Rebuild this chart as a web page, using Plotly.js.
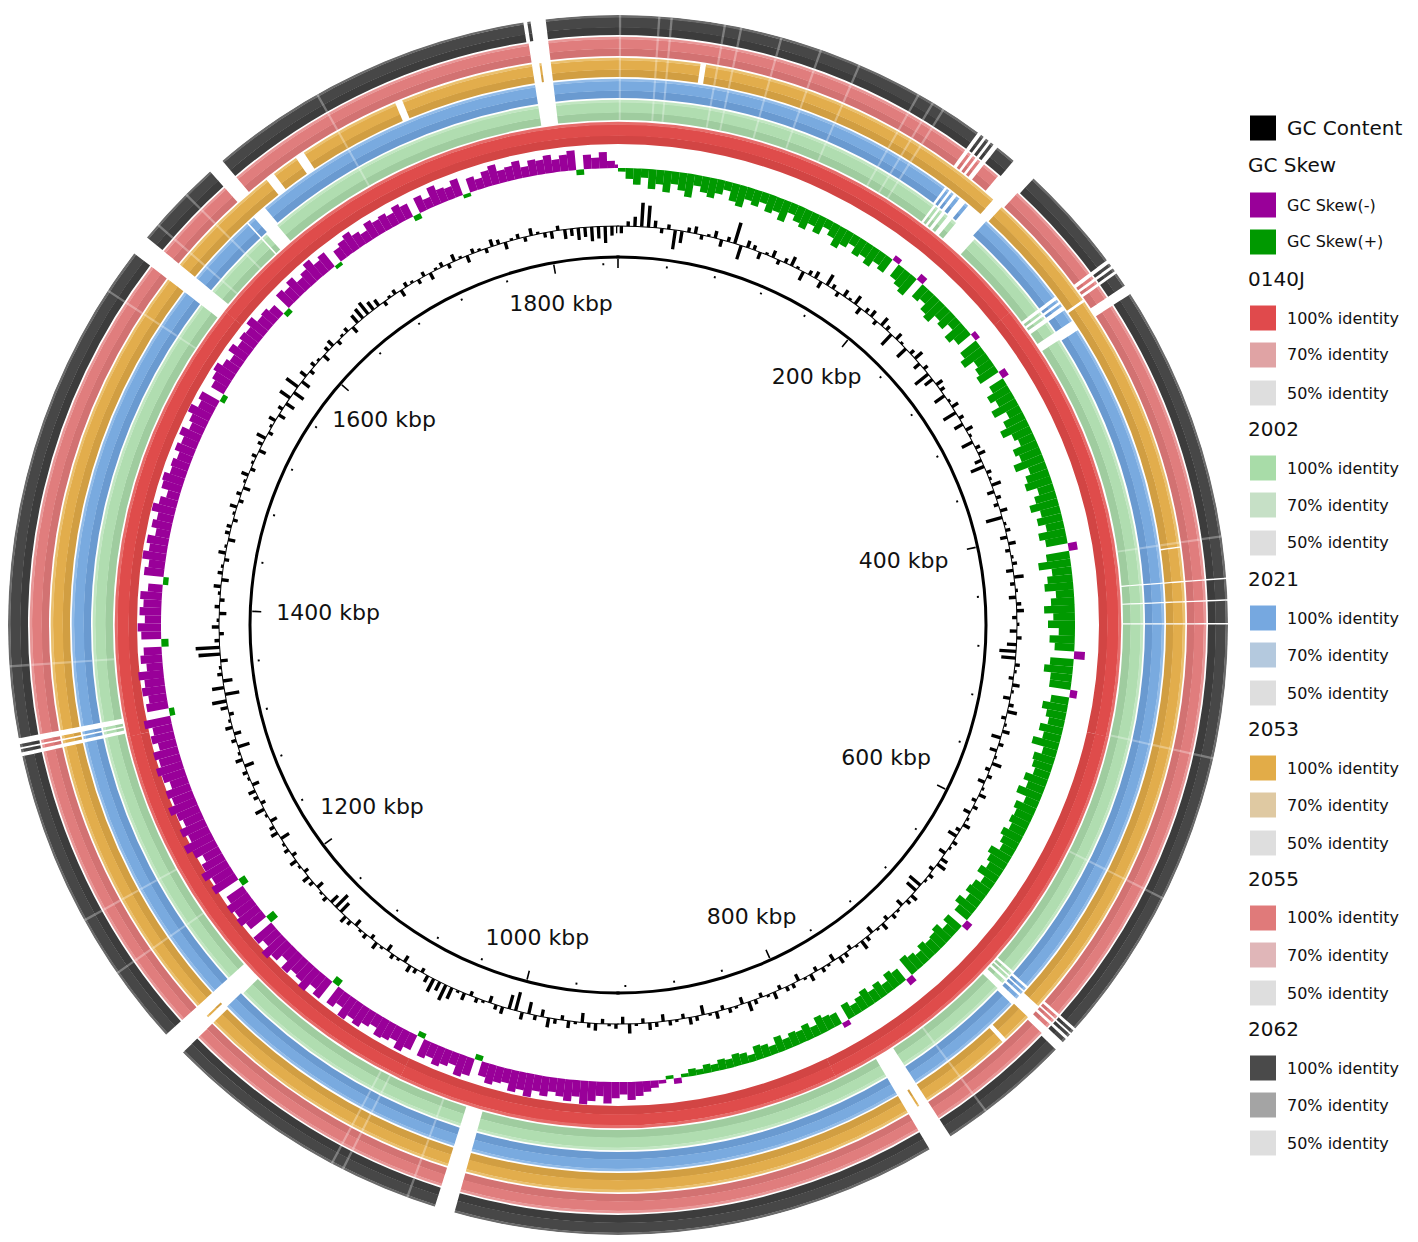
<!DOCTYPE html>
<html><head><meta charset="utf-8">
<script src="https://cdn.plot.ly/plotly-3.0.1.min.js"></script>
<style>html,body{margin:0;padding:0;background:#fff;}#chart{width:1418px;height:1242px;}</style>
</head><body><div id="chart"></div>
<script>
// ---------------- DATA ----------------
const genomeKbp = 1852;      // reference genome length (kbp)
const binKbp = 5;            // window size for GC content / GC skew

// GC skew per 5 kbp window (positive = GC Skew(+), negative = GC Skew(-))
const gcSkew = [
 0.02,0.06,0.09,0.05,0.11,0.08,0.12,0.07,0.10,0.13,0.06,0.09,0.11,0.08,0.05,0.10,0.12,0.07,0.09,0.06,
 0.10,0.08,0.12,0.06,0.09,0.11,0.07,0.10,0.05,0.08,0.12,0.09,0.06,0.10,0.08,0.11,0.07,0.09,-0.03,0.08,
 0.10,0.12,-0.04,0.09,0.07,0.11,0.13,0.08,0.10,0.06,0.12,0.09,-0.03,0.11,0.14,0.08,0.10,0.12,-0.04,0.09,
 0.13,0.10,0.15,0.08,0.12,0.16,0.11,0.09,0.14,0.12,0.17,0.10,0.13,0.15,0.09,0.12,0.16,0.11,0.14,0.10,
 0.15,0.12,-0.05,0.13,0.18,0.11,0.14,0.16,0.10,0.13,0.17,0.12,0.15,0.09,0.14,0.11,-0.06,0.13,0.16,0.12,
 0.12,-0.04,0.10,0.14,0.11,0.09,0.13,0.10,0.15,0.08,0.12,0.11,0.09,0.13,0.10,0.14,0.08,0.12,0.10,0.11,
 0.09,0.12,0.10,0.08,0.13,0.11,0.09,0.12,0.07,0.10,0.11,0.08,0.12,0.09,-0.04,0.10,0.07,0.11,0.09,0.08,
 0.10,0.07,0.09,0.11,-0.04,0.08,0.10,0.06,0.09,0.07,0.10,0.08,0.06,0.09,-0.03,0.07,0.08,0.10,0.06,0.09,
 0.07,0.08,0.06,0.09,0.05,0.07,0.08,0.04,0.06,0.07,0.05,0.06,0.04,0.05,0.03,0.04,0.02,-0.03,0.02,-0.02,
 -0.04,-0.06,-0.08,-0.10,-0.07,-0.09,-0.12,-0.08,-0.11,-0.13,-0.09,-0.12,-0.10,-0.08,-0.11,-0.09,-0.13,-0.10,-0.12,-0.08,
 -0.09,-0.11,-0.08,0.03,-0.10,-0.12,-0.07,-0.09,-0.11,-0.08,-0.10,0.03,-0.09,-0.12,-0.08,-0.10,-0.11,-0.07,-0.09,-0.12,
 -0.10,-0.13,-0.08,-0.11,0.04,-0.12,-0.09,-0.14,-0.11,-0.10,-0.13,-0.08,-0.12,-0.15,-0.10,-0.13,0.05,-0.11,-0.14,-0.12,
 -0.14,-0.11,0.04,-0.15,-0.12,-0.16,-0.13,-0.10,-0.14,-0.17,-0.12,-0.15,-0.11,-0.13,-0.16,-0.12,-0.14,-0.10,-0.13,-0.15,
 -0.12,-0.14,-0.10,-0.13,-0.11,-0.15,0.03,-0.12,-0.10,-0.13,-0.11,-0.14,-0.09,-0.12,-0.10,0.04,-0.11,-0.13,-0.09,-0.12,
 -0.10,-0.12,-0.08,0.03,-0.11,-0.09,-0.13,-0.10,-0.12,-0.08,-0.11,-0.09,-0.13,-0.10,-0.07,-0.11,-0.12,-0.09,-0.10,-0.08,
 -0.11,-0.09,-0.12,-0.08,-0.10,-0.13,-0.09,-0.11,0.03,-0.08,-0.10,-0.12,-0.09,-0.07,-0.11,-0.08,-0.10,-0.09,-0.12,-0.08,
 -0.09,-0.07,0.03,-0.10,-0.08,-0.11,-0.07,-0.09,-0.12,-0.08,-0.10,0.02,-0.07,-0.09,-0.11,-0.08,-0.06,-0.10,-0.08,-0.09,
 -0.07,-0.10,-0.08,0.03,-0.09,-0.06,-0.11,-0.08,-0.07,-0.10,0.02,-0.08,-0.06,-0.09,-0.11,-0.07,-0.08,-0.10,-0.06,-0.09,
 -0.08,-0.10,-0.07,-0.09,-0.11,0.03,-0.08,-0.06,-0.09,-0.04,-0.02
];

// GC content deviation from genome mean (%), per 5 kbp window
const gcContent = [
 -3,2,4,10,9,3,-2,2,-8,-5,2,3,-2,1,3,-3,2,9,-6,3,
 2,-3,1,3,-2,2,4,1,-4,2,3,-3,5,2,-2,3,1,4,-3,2,
 3,-2,4,2,-6,3,1,-5,2,4,-3,2,-7,-4,3,2,-5,1,3,-6,
 2,-4,3,1,-5,2,3,-3,-6,2,1,4,-3,2,-2,3,-7,1,2,-3,
 3,-2,1,2,-3,4,-2,1,-3,2,3,-2,1,-3,2,-4,-7,-6,2,1,
 -2,3,1,-3,2,4,-2,1,3,-4,2,-3,1,4,-2,2,-3,1,3,-2,
 2,-3,1,3,-2,-4,2,1,-3,3,4,-2,2,1,-6,-5,3,2,-3,1,
 2,-2,3,1,-3,2,4,1,-2,2,3,-3,1,2,-2,3,1,-3,2,2,
 -2,3,1,-2,2,4,-3,1,2,-2,3,1,-4,2,3,-2,1,2,-3,2,
 3,-2,1,4,-3,2,1,-2,3,2,-4,1,3,-2,2,4,-3,2,-5,3,
 -8,-6,3,2,-3,1,2,-2,3,1,5,7,4,6,3,-2,2,3,-3,1,
 2,-3,1,3,-2,2,1,-3,2,3,-5,-7,-4,2,1,-3,2,3,-2,1,
 3,-2,2,1,-4,3,2,-3,1,4,-2,2,3,-3,1,2,-4,3,1,-5,
 2,-3,3,1,-2,3,6,-6,5,-4,2,1,-3,9,10,2,-2,3,1,-3,
 2,-2,1,3,-3,2,1,-2,3,1,-3,2,2,-2,1,3,-2,2,-3,1,
 3,-2,1,2,-3,2,4,-2,1,3,-3,2,-4,5,-5,6,-4,3,-2,2,
 1,-3,2,3,-2,1,2,-3,4,5,6,4,3,-2,1,2,-3,2,1,-2,
 2,-3,1,2,-2,3,1,-3,2,1,-2,3,2,-3,1,2,-2,3,1,-2,
 -3,2,-4,-3,-5,-4,-6,-5,-7,-4,-3
];

// scale labels (kbp)
const scaleLabelKbp = [200,400,600,800,1000,1200,1400,1600,1800];
const scaleLabels = ['200 kbp','400 kbp','600 kbp','800 kbp','1000 kbp','1200 kbp','1400 kbp','1600 kbp','1800 kbp'];

// BLAST rings, inner to outer
const ringNames = ['0140J','2002','2021','2053','2055','2062'];

// regions without hits (kbp start, end) for each ring
const gaps0140J = [];
const gaps2002 = [[190,191.5],[193,194.5],[196,198],[200,203],[206,220],[273,275],[276.5,278],[279.5,282],[289,294],
  [440,440.8],[450.5,451.3],[462,462.8],[675,676.5],[678,679],[680.5,682],[684,688],[756,768],[1006,1016],
  [1160,1172],[1325,1327],[1328.5,1329.5],[1331,1334],[1582,1592],[1632,1633],[1636,1644],[1807,1817]];
const gaps2021 = [[189,190.5],[192,193.5],[195,197],[199,203],[205,218],[273,275],[276.5,278],[279.5,282],[289,295],
  [440,440.8],[450.5,451.3],[462,462.8],[676,677.5],[679,680],[681.5,683],[685,689],[756,768],[1006,1016],
  [1161,1172],[1325,1327],[1328.5,1329.5],[1331,1334],[1582,1592],[1632,1633],[1637,1645],[1807,1817]];
const gaps2053 = [[43,46],[213,219],[283,284.5],[422,422.8],[440,440.8],[450.5,451.3],[462,462.8],[680,688],[704,706.5],
  [756,761],[762,768],[1006,1016],[1160,1164],[1165,1172],[1325,1327],[1328.5,1329.5],[1331,1334],[1582,1592],
  [1655,1660],[1674,1679],[1733,1737],[1807,1811],[1812,1817]];
const gaps2055 = [[186,188],[189.5,191],[192.5,194],[195.5,198],[207,220],[274,276],[277.5,279],[280.5,282],[289,294],
  [440,440.8],[450.5,451.3],[462,462.8],[676,677.5],[679,680],[681.5,683],[685,689],[756,768],[1006,1016],
  [1160,1172],[1325,1327],[1328.5,1329.5],[1331,1334],[1582,1592],[1636,1644],[1807,1817]];
const gaps2062 = [[186,188],[189.5,191],[192.5,194],[195.5,198],[208,221],[274,276],[277.5,279],[280.5,282],[289,294],
  [440,440.8],[450.5,451.3],[462,462.8],[676,677.5],[679,680],[681.5,683],[685,690],[756,768],[1006,1016],
  [1160,1172],[1325,1327],[1328.5,1329.5],[1331,1334],[1582,1592],[1636,1644],[1806,1808],[1809.5,1817]];
const ringGaps = [gaps0140J, gaps2002, gaps2021, gaps2053, gaps2055, gaps2062];

// faint boundaries between adjacent hits (kbp)
const faintLineKbp = [1,20,26,52,60,80,100,120,152,160,166,420,528,600,735,1030,1064,1070,1210,1240,1369,1560,1600,1620,1700];

// legend colours (100%, 70%, 50% identity)
const legend100 = ['#e04a4c','#a8dca8','#76a8e0','#e2ac48','#e07a7a','#4a4a4a'];
const legend70  = ['#e0a3a4','#c6e0c6','#b4c9de','#dfc9a2','#e0b6b8','#a4a4a4'];
const legend50  = ['#dedede','#dedede','#dedede','#dedede','#dedede','#dedede'];

// ---------------- DRAWING ----------------
const deg = k => k / genomeKbp * 360;
const traces = [];
const common = {type:'barpolar', hoverinfo:'skip', showlegend:false};

// ring geometry & shades (inner-dark, base, outer-light edge)
const ringGeom = [[481,503],[505,525],[527,546],[548,567],[569,588],[590,610]];
const ringShades = [
  ['#d24544','#df4c4b','#e66c6a'],
  ['#9fcc9f','#b0ddb0','#c2e6c2'],
  ['#6a9ad0','#79aadf','#93bce8'],
  ['#d19e42','#e2ad4c','#eac06f'],
  ['#d27272','#e07d7d','#e89797'],
  ['#3c3c3c','#474747','#6a6a6a']
];
const bandFrac = [[0,0.38],[0.38,0.88],[0.88,1]];

function segments(gaps){
  const g = gaps.slice().sort((a,b)=>a[0]-b[0]);
  const segs=[]; let cur=0;
  g.forEach(([s,e])=>{ if(s>cur) segs.push([cur,s]); cur=Math.max(cur,e); });
  if(cur<genomeKbp) segs.push([cur,genomeKbp]);
  const out=[];
  segs.forEach(([s,e])=>{
    const n=Math.ceil((e-s)/300);
    for(let i=0;i<n;i++){ out.push([s+(e-s)*i/n, s+(e-s)*(i+1)/n]); }
  });
  return out;
}

ringGaps.forEach((gaps,ri)=>{
  const segs = segments(gaps);
  const th = segs.map(([s,e])=>deg((s+e)/2));
  const wd = segs.map(([s,e])=>deg(e-s)+0.02);
  const [r0,r1] = ringGeom[ri];
  const t = r1-r0;
  bandFrac.forEach((f,bi)=>{
    traces.push(Object.assign({}, common, {
      theta: th, width: wd, base: th.map(()=>r0+f[0]*t), r: th.map(()=>(f[1]-f[0])*t+0.3),
      marker:{color: ringShades[ri][bi], line:{width:0}}
    }));
  });
  if(ri>0){
    traces.push(Object.assign({}, common, {
      theta: faintLineKbp.map(deg), width: faintLineKbp.map(()=>0.22),
      base: faintLineKbp.map(()=>r0), r: faintLineKbp.map(()=>t),
      marker:{color:'rgba(255,255,255,0.3)', line:{width:0}}
    }));
  }
});

// GC skew
const skewBase = 457, skewScale = 180;
function skewTrace(sign, color){
  const th=[], b=[], r=[], w=[];
  gcSkew.forEach((v,i)=>{
    if(Math.sign(v)!==sign) return;
    const s=i*binKbp, e=Math.min((i+1)*binKbp, genomeKbp);
    th.push(deg((s+e)/2)); w.push(deg(e-s)*1.01);
    const d = -v*skewScale; // (+) inward, (-) outward
    b.push(Math.min(skewBase, skewBase+d)); r.push(Math.abs(d));
  });
  return Object.assign({}, common, {theta:th, base:b, r:r, width:w, marker:{color:color, line:{width:0}}});
}
traces.push(skewTrace(-1,'#990099'));
traces.push(skewTrace(1,'#009900'));

// GC content
const gcBase = 399, gcScale = 2.4;
(function(){
  const th=[], b=[], r=[], w=[];
  gcContent.forEach((v,i)=>{
    const s=i*binKbp, e=Math.min((i+1)*binKbp, genomeKbp);
    th.push(deg((s+e)/2)); w.push(deg(e-s)*0.5);
    const d=v*gcScale;
    b.push(Math.min(gcBase, gcBase+d)); r.push(Math.max(Math.abs(d),0.8));
  });
  traces.push(Object.assign({}, common, {theta:th, base:b, r:r, width:w, marker:{color:'#000', line:{width:0}}}));
  // baseline
  traces.push(Object.assign({}, common, {theta:[90,270], base:[gcBase-0.5,gcBase-0.5], r:[1,1], width:[180.2,180.2], marker:{color:'#000', line:{width:0}}}));
})();

// inner scale circle
traces.push(Object.assign({}, common, {theta:[90,270], base:[366.5,366.5], r:[3,3], width:[180.5,180.5], marker:{color:'#000', line:{width:0}}}));

// ticks every 40 kbp (major every 200 kbp), inside the inner circle and outside the outermost ring
(function(){
  const tk=[]; for(let k=0;k<genomeKbp;k+=40) tk.push(k);
  const major = tk.filter(k=>k%200===0), minor = tk.filter(k=>k%200!==0);
  traces.push(Object.assign({}, common, {theta:major.map(deg), base:major.map(()=>357), r:major.map(()=>9), width:major.map(()=>0.25), marker:{color:'#000', line:{width:0}}}));
  traces.push(Object.assign({}, common, {theta:minor.map(deg), base:minor.map(()=>360), r:minor.map(()=>2), width:minor.map(()=>0.3), marker:{color:'#000', line:{width:0}}}));
  traces.push(Object.assign({}, common, {theta:major.map(deg), base:major.map(()=>613), r:major.map(()=>7), width:major.map(()=>0.22), marker:{color:'#000', line:{width:0}}}));
  traces.push(Object.assign({}, common, {theta:minor.map(deg), base:minor.map(()=>614), r:minor.map(()=>2), width:minor.map(()=>0.25), marker:{color:'#000', line:{width:0}}}));
})();

// scale labels
traces.push({
  type:'scatterpolar', mode:'text', hoverinfo:'skip', showlegend:false,
  theta: scaleLabelKbp.map(deg),
  r: scaleLabelKbp.map(k=>{ const s=Math.abs(Math.sin(deg(k)*Math.PI/180)); return 325-35*s*s*s; }),
  text: scaleLabels,
  textfont:{family:'DejaVu Sans, sans-serif', size:22, color:'#111'}
});

// ---------------- LEGEND ----------------
const W=1418, H=1242;
const shapes=[], annotations=[];
const px = x=>x/W, py = y=>1-y/H;
function sq(yc, color){
  shapes.push({type:'rect', xref:'paper', yref:'paper', x0:px(1250), x1:px(1276), y0:py(yc-12.5), y1:py(yc+12.5), fillcolor:color, line:{width:0}});
}
function txt(x, yc, s, size){
  annotations.push({xref:'paper', yref:'paper', x:px(x), y:py(yc), text:s, showarrow:false, xanchor:'left', yanchor:'middle',
    font:{family:'DejaVu Sans, sans-serif', size:size, color:'#111'}});
}
sq(128,'#000000'); txt(1285,128,'GC Content',20);
txt(1246,165,'GC Skew',20);
sq(205,'#990099'); txt(1285,205,'GC Skew(-)',16);
sq(242,'#009900'); txt(1285,242,'GC Skew(+)',16);
ringNames.forEach((n,i)=>{
  const y0 = 279 + i*150;
  txt(1246, y0, n, 20);
  sq(y0+39, legend100[i]); txt(1285, y0+39, '100% identity', 16);
  sq(y0+76, legend70[i]);  txt(1285, y0+76, '70% identity', 16);
  sq(y0+114, legend50[i]); txt(1285, y0+114, '50% identity', 16);
});

const layout = {
  width:W, height:H, margin:{l:0,r:0,t:0,b:0}, paper_bgcolor:'#fff',
  showlegend:false,
  polar:{
    domain:{x:[8/W, 1228/W], y:[7/H, 1227/H]},
    bgcolor:'#fff', barmode:'overlay', bargap:0, hole:0,
    radialaxis:{range:[0,610], visible:false},
    angularaxis:{visible:false, rotation:90, direction:'clockwise'}
  },
  shapes:shapes, annotations:annotations
};
Plotly.newPlot('chart', traces, layout, {staticPlot:true});
</script>
</body></html>
